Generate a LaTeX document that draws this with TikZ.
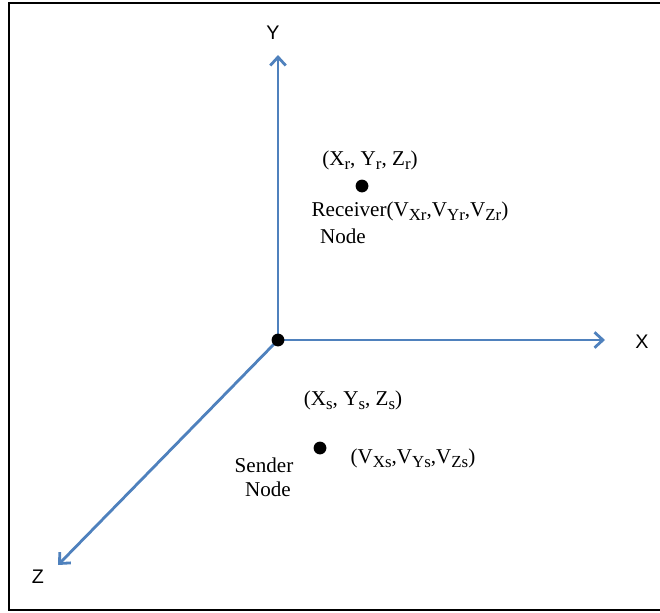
\documentclass[tikz,border=0pt]{standalone}
\usepackage{fontspec}
\setmainfont{Liberation Serif}
\setsansfont{Liberation Sans}
\usetikzlibrary{arrows.meta}
\definecolor{axisblue}{RGB}{79,129,189}
\newcommand{\lsub}[1]{\raisebox{-0.45ex}{\fontsize{12}{13}\selectfont #1}}
\tikzset{
  axis/.style={-{Straight Barb[length=6pt,width=11pt]}, axisblue, line width=2pt},
  axislabel/.style={font=\sffamily\fontsize{14}{16}\selectfont},
  lbl/.style={font=\fontsize{15}{17}\selectfont, inner sep=0pt},
  dot/.style={circle, fill=black, inner sep=0pt, minimum size=0.32cm}
}
\begin{document}
\begin{tikzpicture}[x=0.025cm, y=-0.025cm]
\useasboundingbox (0,0) rectangle (660,613);
\draw[line width=1.4pt] (662,3) -- (9,3) -- (9,610) -- (662,610);

\coordinate (O) at (278,340);
\coordinate (xend) at (605,340);
\coordinate (yend) at (278,55);
\coordinate (zend) at (58,565);
\draw[axis] (O) -- (xend);
\draw[axis] (O) -- (yend);
\draw[axis] (O) -- (zend);
\node[dot] (origin) at (O) {};

\node[axislabel] (xlab) at (642,342) {X};
\node[axislabel] (ylab) at (273,33) {Y};
\node[axislabel] (zlab) at (38,577) {Z};

% receiver
\node[dot] (recv) at (362,186) {};
\node[lbl] (recvpos) at (370,160) {(X\lsub{r}, Y\lsub{r}, Z\lsub{r})};
\node[lbl] (recvvel) at (410,211) {Receiver(V\lsub{Xr},V\lsub{Yr},V\lsub{Zr})};
\node[lbl] (recvname) at (343,236) {Node};

% sender
\node[dot] (send) at (320,448) {};
\node[lbl] (sendpos) at (353,400) {(X\lsub{s}, Y\lsub{s}, Z\lsub{s})};
\node[lbl] (sendvel) at (413,458) {(V\lsub{Xs},V\lsub{Ys},V\lsub{Zs})};
\node[lbl] (sendname) at (264,465) {Sender};
\node[lbl] (sendname2) at (268,489) {Node};
\end{tikzpicture}
\end{document}
